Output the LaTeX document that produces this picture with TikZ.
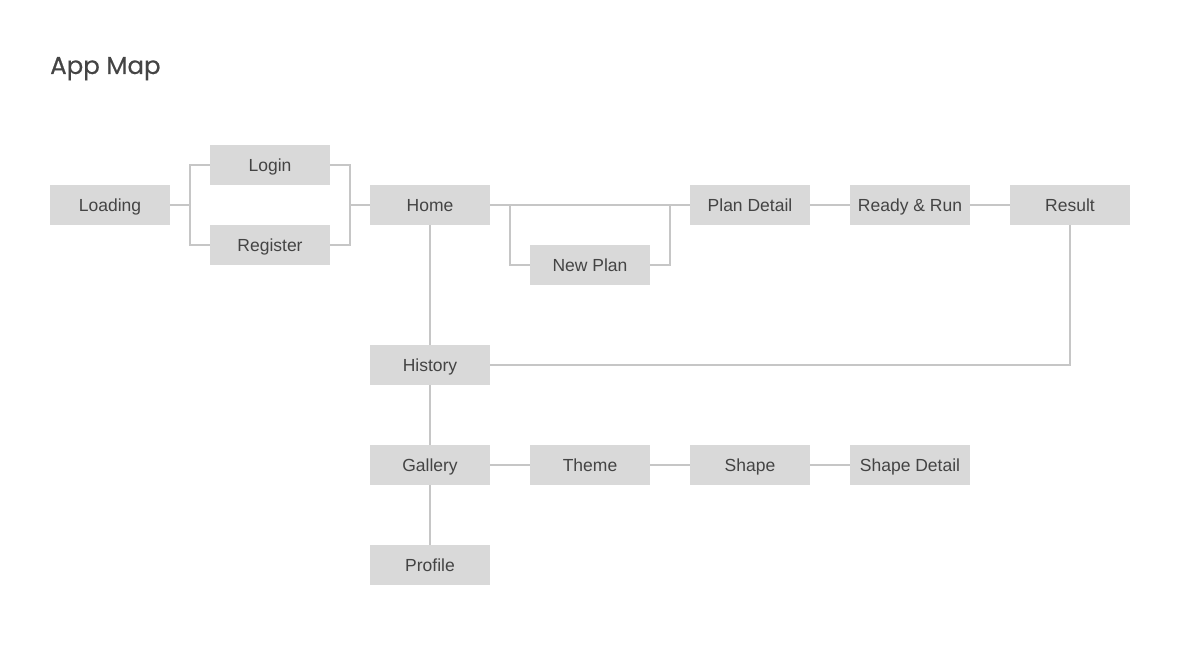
\documentclass[tikz,border=0pt]{standalone}
\usepackage{fontspec}
\setmainfont{Liberation Sans}
\newfontfamily\titlefont[FakeBold=0.5]{Poppins}
\definecolor{boxfill}{HTML}{D9D9D9}
\definecolor{linec}{HTML}{C6C6C6}
\definecolor{txt}{HTML}{444444}
\begin{document}
\begin{tikzpicture}[x=1pt,y=-1pt,
  scr/.style={fill=boxfill,minimum width=120pt,minimum height=40pt,inner sep=0pt,text height=12.5pt,text depth=0pt,text=txt,font=\fontsize{17.5}{20}\selectfont},
  conn/.style={draw=linec,line width=1.3pt}]
\useasboundingbox (0,0) rectangle (1180,650);
\fill[white] (0,0) rectangle (1180,650);
\node[anchor=base west,text=txt,font=\titlefont\fontsize{24.5}{28}\selectfont,inner sep=0pt] (title) at (50,74) {App Map};
\node[scr] (loading) at (110,205) {Loading};
\node[scr] (login) at (270,165) {Login};
\node[scr] (register) at (270,245) {Register};
\node[scr] (home) at (430,205) {Home};
\node[scr] (newplan) at (590,265) {New Plan};
\node[scr] (plandetail) at (750,205) {Plan Detail};
\node[scr] (ready) at (910,205) {Ready \& Run};
\node[scr] (result) at (1070,205) {Result};
\node[scr] (history) at (430,365) {History};
\node[scr] (gallery) at (430,465) {Gallery};
\node[scr] (theme) at (590,465) {Theme};
\node[scr] (shape) at (750,465) {Shape};
\node[scr] (shapedetail) at (910,465) {Shape Detail};
\node[scr] (profile) at (430,565) {Profile};
\coordinate (j1) at (190,205);
\coordinate (j2) at (350,205);
\draw[conn] (loading.east) -- (j1);
\draw[conn] (login.west) -| (j1) |- (register.west);
\draw[conn] (login.east) -| (j2) |- (register.east);
\draw[conn] (j2) -- (home.west);
\draw[conn] (home.east) -- (plandetail.west);
\draw[conn] (newplan.west) -| (510,205);
\draw[conn] (newplan.east) -| (670,205);
\draw[conn] (plandetail) -- (ready) -- (result);
\draw[conn] (result.south) |- (history.east);
\draw[conn] (home.south) -- (history.north);
\draw[conn] (history.south) -- (gallery.north);
\draw[conn] (gallery.south) -- (profile.north);
\draw[conn] (gallery.east) -- (theme.west);
\draw[conn] (theme.east) -- (shape.west);
\draw[conn] (shape.east) -- (shapedetail.west);
\end{tikzpicture}
\end{document}
